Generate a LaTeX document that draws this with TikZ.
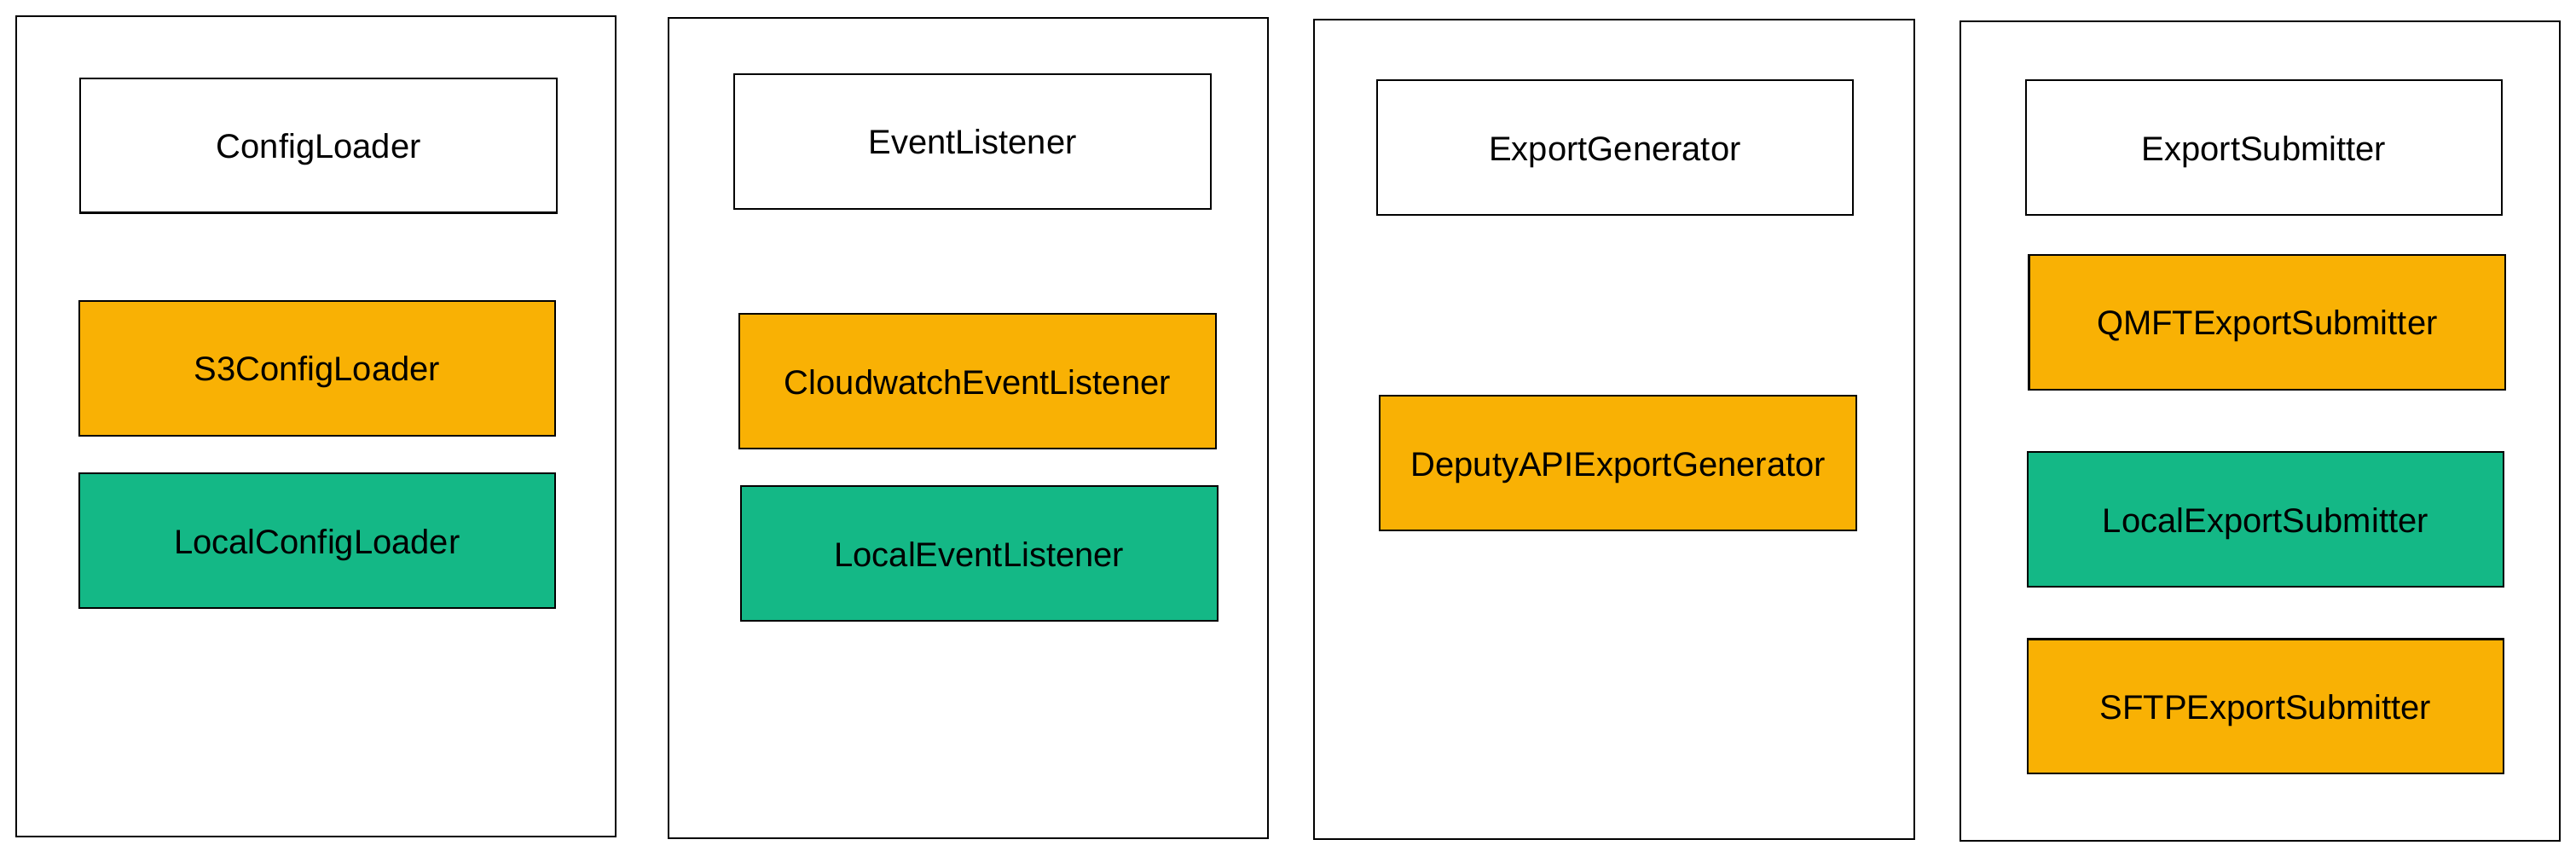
\documentclass[tikz,border=0pt]{standalone}
\usepackage{fontspec}
\setmainfont{Liberation Sans}
\definecolor{implorange}{HTML}{F9B104}
\definecolor{implgreen}{HTML}{14B886}
\begin{document}
\begin{tikzpicture}[x=0.02cm, y=-0.02cm, line width=0.6pt,
    every node/.style={rectangle, draw, font=\fontsize{11.8}{14}\selectfont,
        text height=0.9em, text depth=0pt},
    panel/.style={minimum width=7.3cm, minimum height=9.98cm},
    iface/.style={minimum width=5.8cm, minimum height=1.64cm, fill=white},
    remote/.style={iface, fill=implorange},
    local/.style={iface, fill=implgreen}]
    \useasboundingbox (0,0) rectangle (1568,521.6);
    \node[panel] (P1) at (192.5,259.5) {};
    \node[panel] (P2) at (589.5,260.5) {};
    \node[panel] (P3) at (982.5,261.5) {};
    \node[panel] (P4) at (1375.5,262.5) {};
    \node[iface] (CL) at (194,88.5) {ConfigLoader};
    \node[remote] (S3CL) at (193,224) {S3ConfigLoader};
    \node[local] (LCL) at (193,329) {LocalConfigLoader};
    \node[iface] (EL) at (592,86) {EventListener};
    \node[remote] (CWEL) at (595,232) {CloudwatchEventListener};
    \node[local] (LEL) at (596,337) {LocalEventListener};
    \node[iface] (EG) at (983,90) {ExportGenerator};
    \node[remote] (DEG) at (985,282) {DeputyAPIExportGenerator};
    \node[iface] (ES) at (1378,90) {ExportSubmitter};
    \node[remote] (QES) at (1380,196) {QMFTExportSubmitter};
    \node[local] (LES) at (1379,316) {LocalExportSubmitter};
    \node[remote] (SES) at (1379,430) {SFTPExportSubmitter};
\end{tikzpicture}
\end{document}
